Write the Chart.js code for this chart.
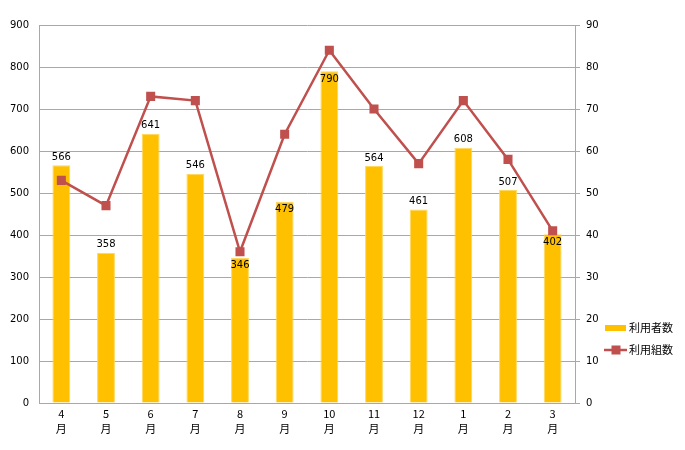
<!DOCTYPE html>
<html>
<head>
<meta charset="utf-8">
<script src="https://cdn.jsdelivr.net/npm/chart.js@4"></script>
<style>
  html, body { margin: 0; padding: 0; background: #fff; }
  #wrap { width: 685px; height: 450px; }
</style>
</head>
<body>
<div id="wrap"><canvas id="chart" width="685" height="450"></canvas></div>
<script>
// data
var months = ['4', '5', '6', '7', '8', '9', '10', '11', '12', '1', '2', '3'];
var users = [566, 358, 641, 546, 346, 479, 790, 564, 461, 608, 507, 402];
var groups = [53, 47, 73, 72, 36, 64, 84, 70, 57, 72, 58, 41];
var leftTicks = [0, 100, 200, 300, 400, 500, 600, 700, 800, 900];
var rightTicks = [0, 10, 20, 30, 40, 50, 60, 70, 80, 90];
// bars whose value label sits inside the top of the bar
var insideLabels = [4, 5, 6, 11];

var FONT = 'DejaVu Sans';
var CJK = '"Noto Sans CJK JP"';
var gridColor = '#a8a8a8';

// value labels on the bars
var barLabels = {
  id: 'barLabels',
  afterDatasetsDraw: function (chart) {
    var ctx = chart.ctx;
    var meta = chart.getDatasetMeta(0);
    ctx.save();
    ctx.font = '10px ' + FONT;
    ctx.fillStyle = '#000';
    ctx.textAlign = 'center';
    ctx.textBaseline = 'middle';
    meta.data.forEach(function (bar, i) {
      var y = insideLabels.indexOf(i) >= 0 ? bar.y + 8 : bar.y - 8;
      ctx.fillText(String(users[i]), bar.x, y);
    });
    ctx.restore();
  }
};

// legend at the lower right
var sideLegend = {
  id: 'sideLegend',
  afterDraw: function (chart) {
    var ctx = chart.ctx;
    ctx.save();
    ctx.fillStyle = '#FFC000';
    ctx.fillRect(605, 325, 21, 6);
    ctx.strokeStyle = '#C0504D';
    ctx.lineWidth = 2.5;
    ctx.beginPath();
    ctx.moveTo(604, 350);
    ctx.lineTo(627, 350);
    ctx.stroke();
    ctx.fillStyle = '#C0504D';
    ctx.fillRect(611.5, 345.5, 9, 9);
    ctx.fillStyle = '#000';
    ctx.font = '11px ' + CJK;
    ctx.textBaseline = 'middle';
    ctx.fillText(chart.data.datasets[0].label, 629, 328);
    ctx.fillText(chart.data.datasets[1].label, 629, 350);
    ctx.restore();
  }
};

new Chart(document.getElementById('chart'), {
  data: {
    labels: months.map(function (m) { return [m, '月']; }),
    datasets: [
      {
        type: 'bar',
        label: '利用者数',
        data: users,
        yAxisID: 'y',
        backgroundColor: '#FFC000',
        borderColor: '#FFD75A',
        borderWidth: 1,
        barPercentage: 0.4,
        categoryPercentage: 1,
        order: 2
      },
      {
        type: 'line',
        label: '利用組数',
        data: groups,
        yAxisID: 'y1',
        borderColor: '#C0504D',
        backgroundColor: '#C0504D',
        borderWidth: 2.5,
        pointStyle: 'rect',
        pointRadius: 6.4,
        pointBorderWidth: 0,
        tension: 0,
        order: 1
      }
    ]
  },
  options: {
    responsive: false,
    animation: false,
    layout: { padding: { top: 25 } },
    plugins: {
      legend: { display: false },
      tooltip: { enabled: false }
    },
    scales: {
      x: {
        grid: { display: false },
        border: { color: gridColor },
        ticks: { color: '#000', font: { family: CJK, size: 11, lineHeight: 1.3 }, padding: -4, maxRotation: 0 },
        afterFit: function (s) { s.height = 47; }
      },
      y: {
        position: 'left',
        min: 0, max: 900,
        afterBuildTicks: function (s) { s.ticks = leftTicks.map(function (v) { return { value: v }; }); },
        grid: { color: gridColor, drawTicks: false },
        border: { color: gridColor },
        ticks: { color: '#000', font: { family: FONT, size: 10 }, padding: 10 },
        afterFit: function (s) { s.width = 39; }
      },
      y1: {
        position: 'right',
        min: 0, max: 90,
        afterBuildTicks: function (s) { s.ticks = rightTicks.map(function (v) { return { value: v }; }); },
        grid: { drawOnChartArea: false, color: gridColor, tickLength: 5 },
        border: { color: gridColor },
        ticks: { color: '#000', font: { family: FONT, size: 10 }, padding: 6 },
        afterFit: function (s) { s.width = 110; }
      }
    }
  },
  plugins: [barLabels, sideLegend]
});
</script>
</body>
</html>
